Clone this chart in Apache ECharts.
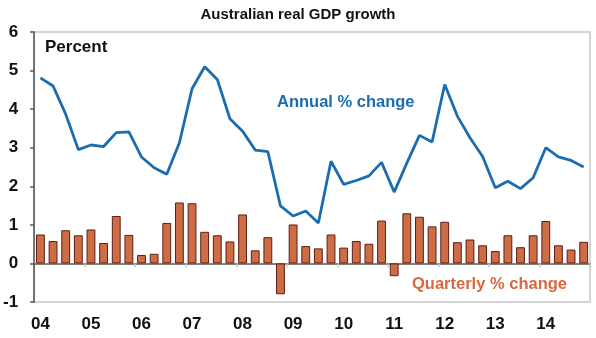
<!DOCTYPE html>
<html>
<head>
<meta charset="utf-8">
<style>
  html, body { margin: 0; padding: 0; background: #ffffff; }
  #chart { width: 596px; height: 338px; }
</style>
<script src="https://cdn.jsdelivr.net/npm/echarts@6/dist/echarts.min.js"></script>
</head>
<body>
<div id="chart"></div>
<script>
// Quarters from 2004 Q1 to 2014 Q4
const years = ['04', '05', '06', '07', '08', '09', '10', '11', '12', '13', '14'];
const quarters = [];
years.forEach(function (y) { for (let q = 1; q <= 4; q++) quarters.push(y + 'Q' + q); });

// Annual % change in real GDP
const annualChange = [
  4.81, 4.60, 3.87, 2.95, 3.07, 3.03, 3.39, 3.41,
  2.76, 2.48, 2.31, 3.13, 4.53, 5.10, 4.77, 3.75,
  3.43, 2.94, 2.90, 1.49, 1.23, 1.36, 1.05, 2.65,
  2.05, 2.15, 2.27, 2.62, 1.85, 2.60, 3.32, 3.15,
  4.64, 3.82, 3.26, 2.77, 1.96, 2.13, 1.94, 2.22,
  3.00, 2.76, 2.67, 2.50
];

// Quarterly % change in real GDP
const quarterlyChange = [
  0.75, 0.58, 0.86, 0.73, 0.88, 0.53, 1.23, 0.74,
  0.22, 0.25, 1.05, 1.58, 1.56, 0.82, 0.73, 0.57,
  1.27, 0.34, 0.68, -0.80, 1.01, 0.45, 0.39, 0.75,
  0.41, 0.58, 0.51, 1.11, -0.33, 1.30, 1.21, 0.96,
  1.08, 0.55, 0.62, 0.47, 0.32, 0.73, 0.42, 0.73,
  1.10, 0.47, 0.36, 0.56
];

const yTicks = { min: -1, max: 6, interval: 1 };

const chart = echarts.init(document.getElementById('chart'), null, { renderer: 'canvas' });
const font = 'Liberation Sans, Arial, sans-serif';

chart.setOption({
  animation: false,
  backgroundColor: '#ffffff',
  title: {
    text: 'Australian real GDP growth',
    left: 'center',
    top: 2,
    textStyle: { fontFamily: font, fontSize: 15, fontWeight: 'bold', color: '#111' }
  },
  grid: {
    left: 33, right: 6, top: 32, bottom: 36,
    show: true, borderColor: '#d4d4d4', borderWidth: 2, backgroundColor: 'transparent'
  },
  xAxis: [
    {
      type: 'category',
      data: quarters,
      boundaryGap: true,
      axisLine: { onZero: true, lineStyle: { color: '#555', width: 1.5 } },
      axisTick: {
        show: true, inside: false, length: 4,
        interval: function (i) { return i % 4 === 0 && i > 0; },
        lineStyle: { color: '#c8c8c8', width: 1.5 }
      },
      axisLabel: { show: false },
      splitLine: { show: false }
    },
    {
      type: 'category',
      data: quarters,
      position: 'bottom',
      boundaryGap: true,
      axisLine: { show: false, onZero: false },
      axisTick: { show: false },
      axisLabel: {
        interval: 0,
        margin: 14,
        fontFamily: font, fontSize: 17, fontWeight: 'bold', color: '#111',
        formatter: function (v, i) { return i % 4 === 0 ? v.slice(0, 2) : ''; }
      },
      splitLine: { show: false }
    }
  ],
  yAxis: {
    type: 'value',
    min: yTicks.min, max: yTicks.max, interval: yTicks.interval,
    axisLine: { show: true, lineStyle: { color: '#555', width: 1.5 } },
    axisTick: { show: true, length: 4, lineStyle: { color: '#555', width: 1.5 } },
    axisLabel: { fontFamily: font, fontSize: 17, fontWeight: 'bold', color: '#111', margin: 16 },
    splitLine: { show: false }
  },
  series: [
    {
      name: 'Quarterly % change',
      type: 'bar',
      xAxisIndex: 0,
      data: quarterlyChange,
      barWidth: '70%',
      itemStyle: { color: '#cd6c45', borderColor: '#5c2014', borderWidth: 1 }
    },
    {
      name: 'Annual % change',
      type: 'line',
      xAxisIndex: 0,
      data: annualChange,
      symbol: 'none',
      lineStyle: { color: '#1c6cb0', width: 2.8 },
      z: 3
    }
  ],
  graphic: [
    {
      type: 'text', left: 45, top: 39,
      style: { text: 'Percent', font: 'bold 17px ' + font, fill: '#111' }
    },
    {
      type: 'text', left: 277, top: 94,
      style: { text: 'Annual % change', font: 'bold 16.5px ' + font, fill: '#1c6cb0' }
    },
    {
      type: 'text', left: 412, top: 276,
      style: { text: 'Quarterly % change', font: 'bold 16.5px ' + font, fill: '#d8683e' }
    }
  ]
});
</script>
</body>
</html>
